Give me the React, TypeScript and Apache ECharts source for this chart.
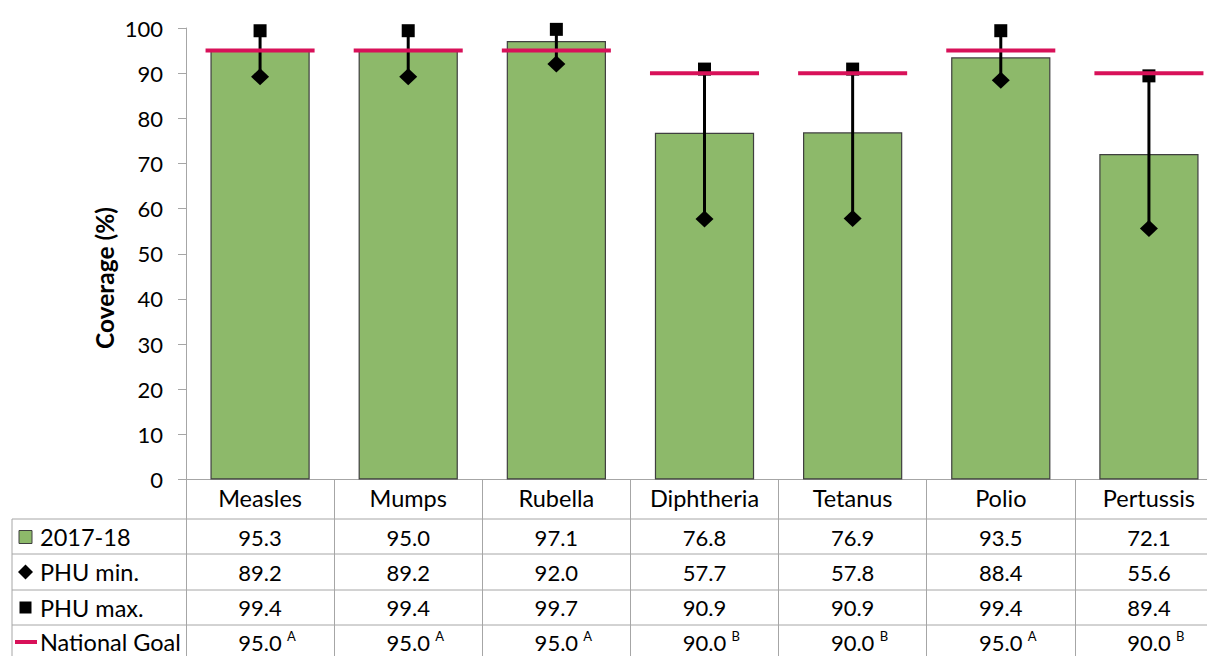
import React, { useEffect, useRef } from "react";
import * as echarts from "echarts";

const categories = ["Measles", "Mumps", "Rubella", "Diphtheria", "Tetanus", "Polio", "Pertussis"];
const coverage = [95.3, 95.0, 97.1, 76.8, 76.9, 93.5, 72.1];
const phuMin = [89.2, 89.2, 92.0, 57.7, 57.8, 88.4, 55.6];
const phuMax = [99.4, 99.4, 99.7, 90.9, 90.9, 99.4, 89.4];
const nationalGoal = [95.0, 95.0, 95.0, 90.0, 90.0, 95.0, 90.0];
const goalNote = ["A", "A", "A", "B", "B", "A", "B"];
const rowLabels = ["2017-18", "PHU min.", "PHU max.", "National Goal"];
const yAxisTitle = "Coverage (%)";

const FONT = "Lato, 'Open Sans', sans-serif";
const BAR_FILL = "#8DB96A";
const BAR_BORDER = "#3F3F3F";
const GOAL = "#D81159";
const GRID_GRAY = "#A6A6A6";

const ROW_Y = [537, 572, 607.5, 642];
const TABLE_LINES_Y = [519, 554, 590, 625];

export default function App() {
  const ref = useRef<HTMLDivElement>(null);

  useEffect(() => {
    if (!ref.current) return;
    const chart = echarts.init(ref.current, null, { renderer: "svg" });

    const tableRows = [
      coverage.map((v) => v.toFixed(1)),
      phuMin.map((v) => v.toFixed(1)),
      phuMax.map((v) => v.toFixed(1)),
      nationalGoal.map((v) => v.toFixed(1)),
    ];

    const graphics: any[] = [];
    TABLE_LINES_Y.forEach((y) => {
      graphics.push({
        type: "line",
        shape: { x1: 12, y1: y, x2: 1207, y2: y },
        style: { stroke: GRID_GRAY, lineWidth: 1 },
        silent: true,
      });
    });
    graphics.push({
      type: "line",
      shape: { x1: 12, y1: TABLE_LINES_Y[0], x2: 12, y2: 656 },
      style: { stroke: GRID_GRAY, lineWidth: 1 },
      silent: true,
    });
    // legend keys
    graphics.push({
      type: "rect",
      shape: { x: 19, y: ROW_Y[0] - 6.5, width: 13, height: 13 },
      style: { fill: BAR_FILL, stroke: BAR_BORDER, lineWidth: 1 },
    });
    graphics.push({
      type: "polygon",
      shape: {
        points: [
          [25.5, ROW_Y[1] - 7.5],
          [33, ROW_Y[1]],
          [25.5, ROW_Y[1] + 7.5],
          [18, ROW_Y[1]],
        ],
      },
      style: { fill: "#000" },
    });
    graphics.push({
      type: "rect",
      shape: { x: 19.5, y: ROW_Y[2] - 6, width: 12, height: 12 },
      style: { fill: "#000" },
    });
    graphics.push({
      type: "line",
      shape: { x1: 15, y1: ROW_Y[3], x2: 37, y2: ROW_Y[3] },
      style: { stroke: GOAL, lineWidth: 4 },
    });
    rowLabels.forEach((t, r) => {
      graphics.push({
        type: "text",
        x: 40,
        y: ROW_Y[r],
        style: {
          text: t,
          fill: "#000",
          fontSize: 23.5,
          fontFamily: FONT,
          align: "left",
          verticalAlign: "middle",
        },
      });
    });
    graphics.push({
      type: "text",
      x: 104,
      y: 278,
      rotation: Math.PI / 2,
      style: {
        text: yAxisTitle,
        fill: "#000",
        fontSize: 24.5,
        fontWeight: "bold",
        fontFamily: FONT,
        align: "center",
        verticalAlign: "middle",
      },
    });

    chart.setOption({
      animation: false,
      grid: {
        left: 186,
        top: 28,
        width: 1037,
        height: 451.5,
        containLabel: false,
        outerBoundsMode: "none",
      },
      xAxis: {
        type: "category",
        data: categories,
        axisLine: { show: true, lineStyle: { color: GRID_GRAY, width: 1 } },
        axisTick: { show: true, alignWithLabel: false, length: 177, lineStyle: { color: GRID_GRAY, width: 1 } },
        axisLabel: { color: "#000", fontSize: 23.5, fontFamily: FONT, margin: 6, interval: 0 },
        splitLine: { show: false },
      },
      yAxis: {
        type: "value",
        min: 0,
        max: 100,
        interval: 10,
        axisLine: { show: true, lineStyle: { color: GRID_GRAY, width: 1 } },
        axisTick: { show: true, length: 8, lineStyle: { color: GRID_GRAY, width: 1 } },
        axisLabel: { color: "#000", fontSize: 22, fontFamily: FONT, margin: 23 },
        splitLine: { show: false },
      },
      graphic: graphics,
      series: [
        {
          name: rowLabels[0],
          type: "bar",
          data: coverage,
          barWidth: "67%",
          itemStyle: { color: BAR_FILL, borderColor: BAR_BORDER, borderWidth: 1.2 },
          z: 2,
        },
        {
          name: "PHU range",
          type: "custom",
          z: 3,
          data: categories.map((_, i) => [i, phuMin[i], phuMax[i]]),
          encode: { x: 0, y: [1, 2] },
          renderItem: (params: any, api: any) => {
            const i = api.value(0);
            const pMin = api.coord([i, api.value(1)]);
            const pMax = api.coord([i, api.value(2)]);
            const x = pMin[0];
            return {
              type: "group",
              children: [
                {
                  type: "line",
                  shape: { x1: x, y1: pMin[1], x2: x, y2: pMax[1] },
                  style: { stroke: "#000", lineWidth: 3 },
                },
                {
                  type: "rect",
                  shape: { x: x - 6.5, y: pMax[1] - 6.5, width: 13, height: 13 },
                  style: { fill: "#000" },
                },
                {
                  type: "polygon",
                  shape: {
                    points: [
                      [x, pMin[1] - 8.5],
                      [x + 9, pMin[1]],
                      [x, pMin[1] + 8.5],
                      [x - 9, pMin[1]],
                    ],
                  },
                  style: { fill: "#000" },
                },
              ],
            };
          },
        },
        {
          name: rowLabels[3],
          type: "custom",
          z: 4,
          data: categories.map((_, i) => [i, nationalGoal[i]]),
          encode: { x: 0, y: 1 },
          renderItem: (params: any, api: any) => {
            const i = api.value(0);
            const p = api.coord([i, api.value(1)]);
            const w = api.size([1, 0])[0] * 0.736;
            return {
              type: "line",
              shape: { x1: p[0] - w / 2, y1: p[1], x2: p[0] + w / 2, y2: p[1] },
              style: { stroke: GOAL, lineWidth: 4 },
            };
          },
        },
        {
          name: "table",
          type: "custom",
          z: 5,
          clip: false,
          silent: true,
          data: categories.map((_, i) => [i, 0]),
          encode: { x: 0, y: 1 },
          renderItem: (params: any, api: any) => {
            const i = api.value(0);
            const x = api.coord([i, 0])[0];
            const children: any[] = tableRows.map((row, r) => ({
              type: "text",
              x,
              y: ROW_Y[r],
              style: {
                text: row[i],
                fill: "#000",
                fontSize: 22,
                fontFamily: FONT,
                align: "center",
                verticalAlign: "middle",
              },
            }));
            children.push({
              type: "text",
              x: x + 27,
              y: ROW_Y[3] - 6,
              style: {
                text: goalNote[i],
                fill: "#000",
                fontSize: 13,
                fontFamily: FONT,
                align: "left",
                verticalAlign: "middle",
              },
            });
            return { type: "group", children };
          },
        },
      ],
    });

    return () => chart.dispose();
  }, []);

  return (
    <div
      ref={ref}
      style={{ position: "fixed", left: 0, top: 0, width: 1207, height: 656, background: "#fff" }}
    />
  );
}
